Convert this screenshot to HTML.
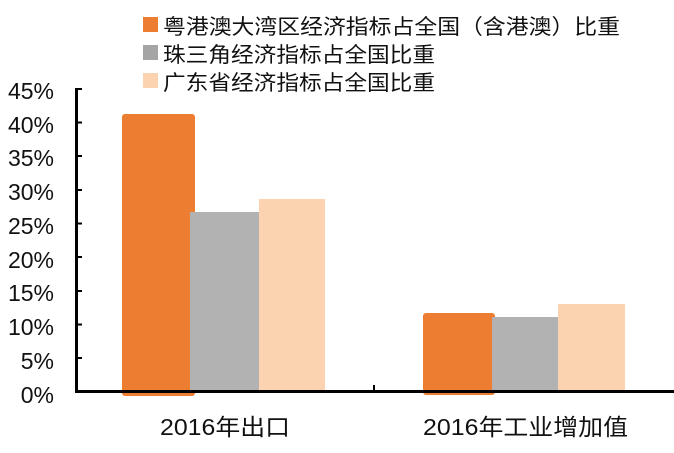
<!DOCTYPE html>
<html><head><meta charset="utf-8"><style>
body{margin:0;background:#fff;}
svg text{font-family:"Liberation Sans","Noto Sans CJK SC",sans-serif;fill:#111;}
</style></head><body>
<svg width="674" height="448" xmlns="http://www.w3.org/2000/svg">
<rect x="143" y="17" width="15" height="15" fill="#ED7D31"/>
<rect x="143" y="45" width="15" height="15" fill="#A5A5A5"/>
<rect x="143" y="73" width="15" height="15" fill="#FBD3B0"/>
<text x="163" y="34" font-size="21" textLength="457" lengthAdjust="spacingAndGlyphs">粤港澳大湾区经济指标占全国（含港澳）比重</text>
<text x="163" y="62" font-size="21" textLength="272" lengthAdjust="spacingAndGlyphs">珠三角经济指标占全国比重</text>
<text x="163" y="90" font-size="21" textLength="272" lengthAdjust="spacingAndGlyphs">广东省经济指标占全国比重</text>
<g font-size="23" text-anchor="end">
<text x="54" y="99">45%</text><text x="54" y="133">40%</text><text x="54" y="166">35%</text><text x="54" y="200">30%</text><text x="54" y="234">25%</text><text x="54" y="268">20%</text><text x="54" y="301">15%</text><text x="54" y="335">10%</text><text x="54" y="369">5%</text><text x="54" y="403">0%</text>
</g>
<rect x="122" y="114" width="73" height="282" rx="3" fill="#ED7D31"/>
<rect x="190" y="212" width="69" height="180" fill="#B2B2B2"/>
<rect x="259" y="199" width="66" height="193" fill="#FBD3B0"/>
<rect x="423" y="313" width="72" height="82" rx="3" fill="#ED7D31"/>
<rect x="492" y="317" width="66" height="75" fill="#B2B2B2"/>
<rect x="558" y="304" width="67" height="88" fill="#FBD3B0"/>
<g stroke="#000" stroke-width="3">
<line x1="76.5" y1="88" x2="76.5" y2="393"/>
<line x1="75" y1="391.5" x2="674" y2="391.5"/>
</g>
<g stroke="#000" stroke-width="2">
<line x1="76" y1="89" x2="82" y2="89"/><line x1="76" y1="122.5" x2="82" y2="122.5"/><line x1="76" y1="156" x2="82" y2="156"/><line x1="76" y1="190" x2="82" y2="190"/><line x1="76" y1="223.5" x2="82" y2="223.5"/><line x1="76" y1="257" x2="82" y2="257"/><line x1="76" y1="291" x2="82" y2="291"/><line x1="76" y1="324.5" x2="82" y2="324.5"/><line x1="76" y1="358" x2="82" y2="358"/>
<line x1="374" y1="385" x2="374" y2="391"/>
</g>
<text x="160" y="435" font-size="23" textLength="130" lengthAdjust="spacingAndGlyphs">2016年出口</text>
<text x="423" y="435" font-size="23" textLength="205" lengthAdjust="spacingAndGlyphs">2016年工业增加值</text>
</svg>
</body></html>
